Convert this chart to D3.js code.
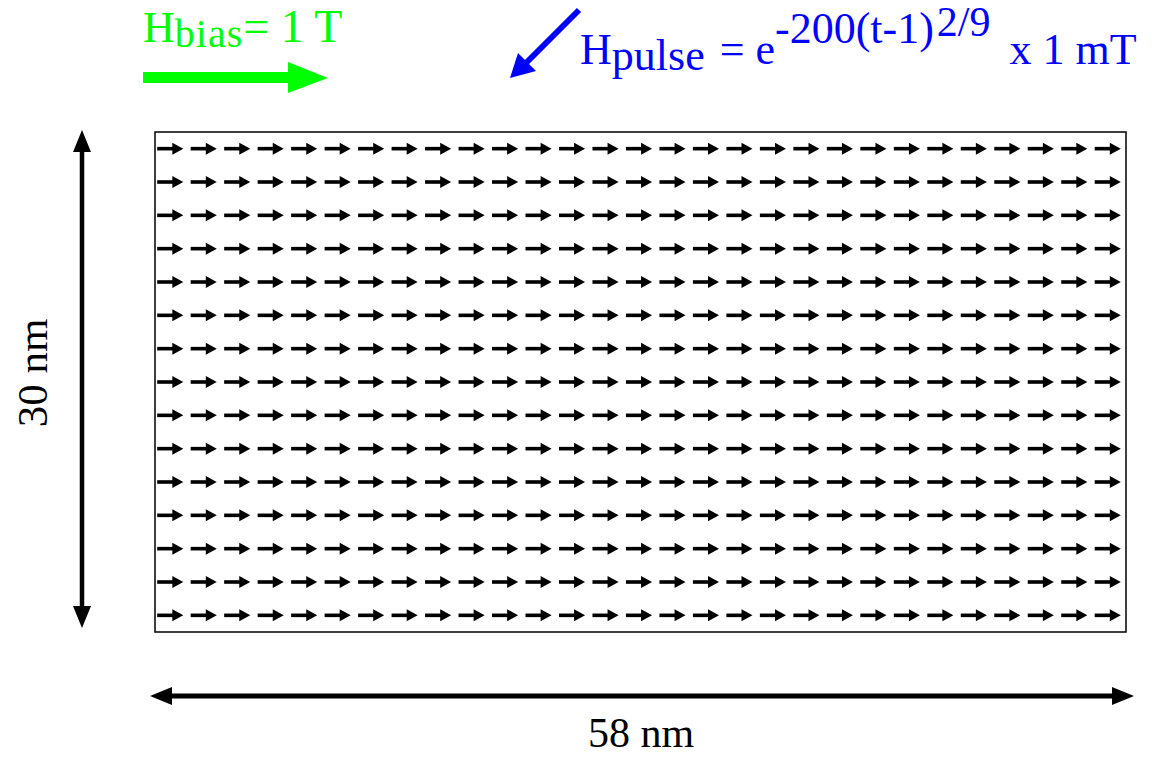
<!DOCTYPE html>
<html>
<head>
<meta charset="utf-8">
<script src="https://cdn.jsdelivr.net/npm/d3@7"></script>
<style>
  body { margin: 0; background: #fff; }
  svg { display: block; }
  text { font-family: "Liberation Serif", "Times New Roman", serif; }
</style>
</head>
<body>
<div id="wrapper"></div>
<script>
// 1. Data
// cell centres of the 58 nm x 30 nm sample (2 nm cells)
const colsNm = [1, 3, 5, 7, 9, 11, 13, 15, 17, 19, 21, 23, 25, 27, 29,
    31, 33, 35, 37, 39, 41, 43, 45, 47, 49, 51, 53, 55, 57];
const rowsNm = [1, 3, 5, 7, 9, 11, 13, 15, 17, 19, 21, 23, 25, 27, 29];
// in-plane magnetisation angle of each cell, degrees (0 = +x)
const angleDeg = [
    [0,0,0,0,0,0,0,0,0,0,0,0,0,0,0,0,0,0,0,0,0,0,0,0,0,0,0,0,0],
    [0,0,0,0,0,0,0,0,0,0,0,0,0,0,0,0,0,0,0,0,0,0,0,0,0,0,0,0,0],
    [0,0,0,0,0,0,0,0,0,0,0,0,0,0,0,0,0,0,0,0,0,0,0,0,0,0,0,0,0],
    [0,0,0,0,0,0,0,0,0,0,0,0,0,0,0,0,0,0,0,0,0,0,0,0,0,0,0,0,0],
    [0,0,0,0,0,0,0,0,0,0,0,0,0,0,0,0,0,0,0,0,0,0,0,0,0,0,0,0,0],
    [0,0,0,0,0,0,0,0,0,0,0,0,0,0,0,0,0,0,0,0,0,0,0,0,0,0,0,0,0],
    [0,0,0,0,0,0,0,0,0,0,0,0,0,0,0,0,0,0,0,0,0,0,0,0,0,0,0,0,0],
    [0,0,0,0,0,0,0,0,0,0,0,0,0,0,0,0,0,0,0,0,0,0,0,0,0,0,0,0,0],
    [0,0,0,0,0,0,0,0,0,0,0,0,0,0,0,0,0,0,0,0,0,0,0,0,0,0,0,0,0],
    [0,0,0,0,0,0,0,0,0,0,0,0,0,0,0,0,0,0,0,0,0,0,0,0,0,0,0,0,0],
    [0,0,0,0,0,0,0,0,0,0,0,0,0,0,0,0,0,0,0,0,0,0,0,0,0,0,0,0,0],
    [0,0,0,0,0,0,0,0,0,0,0,0,0,0,0,0,0,0,0,0,0,0,0,0,0,0,0,0,0],
    [0,0,0,0,0,0,0,0,0,0,0,0,0,0,0,0,0,0,0,0,0,0,0,0,0,0,0,0,0],
    [0,0,0,0,0,0,0,0,0,0,0,0,0,0,0,0,0,0,0,0,0,0,0,0,0,0,0,0,0],
    [0,0,0,0,0,0,0,0,0,0,0,0,0,0,0,0,0,0,0,0,0,0,0,0,0,0,0,0,0]
];
const sampleSize = [58, 30];
const widthLabel = "58 nm";
const heightLabel = "30 nm";

// 2. Dimensions
const width = 1155;
const height = 758;
const box = { left: 155, top: 132, right: 1126, bottom: 632 };

const svg = d3.select('#wrapper')
    .append('svg')
    .attr('width', width)
    .attr('height', height);

// 3. Scales
const xScale = d3.scaleLinear()
    .domain([0, sampleSize[0]])
    .range([box.left, box.right]);
const yScale = d3.scaleLinear()
    .domain([0, sampleSize[1]])
    .range([box.top, box.bottom]);

// 4. Sample outline
svg.append('rect')
    .attr('x', xScale(0))
    .attr('y', yScale(0))
    .attr('width', xScale(sampleSize[0]) - xScale(0))
    .attr('height', yScale(sampleSize[1]) - yScale(0))
    .attr('fill', 'none')
    .attr('stroke', '#000')
    .attr('stroke-width', 1.5);

// 5. Magnetisation arrows
const cells = [];
rowsNm.forEach((r, i) => {
    colsNm.forEach((c, j) => {
        cells.push({ x: c, y: r, angle: angleDeg[i][j] });
    });
});
const cellPx = xScale(2) - xScale(0);
const half = cellPx * 0.39;
const headLen = 11;
const headHalf = 6;

const arrows = svg.append('g')
    .selectAll('g')
    .data(cells)
    .join('g')
    .attr('transform', d => `translate(${xScale(d.x) - 1.5},${yScale(d.y)}) rotate(${-d.angle})`);
arrows.append('line')
    .attr('x1', -half)
    .attr('x2', half - headLen + 1)
    .attr('stroke', '#000')
    .attr('stroke-width', 3.6);
arrows.append('path')
    .attr('d', `M${half - headLen},${-headHalf}L${half},0L${half - headLen},${headHalf}Z`)
    .attr('fill', '#000');

// 6. Dimension arrows
function doubleArrow(x1, y1, x2, y2, color, w, hl, hw) {
    const g = svg.append('g');
    const a = Math.atan2(y2 - y1, x2 - x1);
    const ux = Math.cos(a), uy = Math.sin(a);
    g.append('line')
        .attr('x1', x1 + ux * hl * 0.9).attr('y1', y1 + uy * hl * 0.9)
        .attr('x2', x2 - ux * hl * 0.9).attr('y2', y2 - uy * hl * 0.9)
        .attr('stroke', color).attr('stroke-width', w);
    [[x1, y1, -1], [x2, y2, 1]].forEach(([tx, ty, s]) => {
        const bx = tx - s * ux * hl, by = ty - s * uy * hl;
        g.append('path')
            .attr('d', `M${tx},${ty}L${bx - uy * hw},${by + ux * hw}L${bx + uy * hw},${by - ux * hw}Z`)
            .attr('fill', color);
    });
}
doubleArrow(82, yScale(0) - 2, 82, yScale(sampleSize[1]) - 4, '#000', 4.5, 22, 9);
doubleArrow(xScale(0) - 5, 696, xScale(sampleSize[0]) + 8, 696, '#000', 5, 22, 9);

svg.append('text')
    .attr('transform', 'translate(47,373) rotate(-90)')
    .attr('text-anchor', 'middle')
    .attr('font-size', 43)
    .attr('fill', '#000')
    .text(heightLabel);
svg.append('text')
    .attr('x', 641)
    .attr('y', 747)
    .attr('text-anchor', 'middle')
    .attr('font-size', 42)
    .attr('fill', '#000')
    .text(widthLabel);

// 7. Field annotations
const green = '#00ff00';
const blue = '#0000ff';

const bias = svg.append('text')
    .attr('x', 143)
    .attr('y', 42)
    .attr('fill', green)
    .attr('font-size', 44);
bias.append('tspan').text('H');
bias.append('tspan').attr('y', 47).attr('font-size', 40).attr('letter-spacing', 1).text('bias');
bias.append('tspan').attr('y', 42).attr('font-size', 46).text('= 1 T');

svg.append('line')
    .attr('x1', 143).attr('y1', 77.5)
    .attr('x2', 290).attr('y2', 77.5)
    .attr('stroke', green).attr('stroke-width', 11);
svg.append('path')
    .attr('d', 'M288,62L328,78L288,93Z')
    .attr('fill', green);

const pulse = svg.append('text')
    .attr('x', 580)
    .attr('y', 64)
    .attr('fill', blue)
    .attr('font-size', 44);
pulse.append('tspan').text('H');
pulse.append('tspan').attr('y', 70).text('pulse');
pulse.append('tspan').attr('y', 64).attr('dx', 4).text(' = e');
pulse.append('tspan').attr('y', 43).text('-200(t-1)');
pulse.append('tspan').attr('y', 36).attr('dx', 3).attr('font-size', 42).text('2/9');
pulse.append('tspan').attr('y', 64).attr('dx', 8).text(' x 1 mT');

svg.append('line')
    .attr('x1', 579).attr('y1', 10)
    .attr('x2', 524).attr('y2', 65)
    .attr('stroke', blue).attr('stroke-width', 6);
svg.append('path')
    .attr('d', 'M510,78L518,53L536,71Z')
    .attr('fill', blue);
</script>
</body>
</html>
